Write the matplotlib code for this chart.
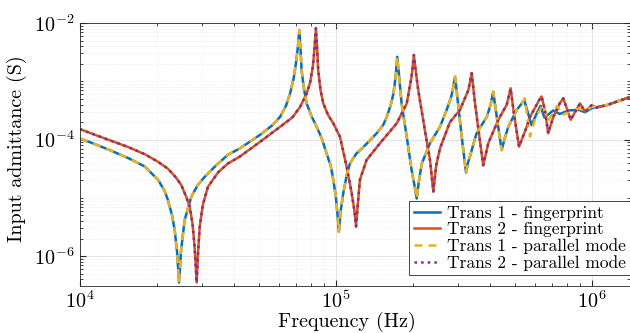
# Input admittance of two transducers, fingerprint vs parallel mode
import numpy as np
import matplotlib.pyplot as plt

# Data (log10 of frequency in Hz, log10 of admittance in S)
t1_logf = [4.000, 4.060, 4.122, 4.190, 4.253, 4.305, 4.330, 4.344, 4.360, 4.370,
           4.380, 4.387, 4.395, 4.409, 4.435, 4.460, 4.487, 4.530, 4.578, 4.625,
           4.703, 4.750, 4.782, 4.805, 4.821, 4.835, 4.844, 4.852, 4.857, 4.862,
           4.866, 4.875, 4.886, 4.905, 4.925, 4.945, 4.964, 4.980, 4.990, 5.000,
           5.006, 5.012, 5.018, 5.029, 5.042, 5.055, 5.080, 5.107, 5.160, 5.185,
           5.199, 5.215, 5.225, 5.233, 5.240, 5.248, 5.257, 5.277, 5.296, 5.308,
           5.316, 5.325, 5.336, 5.368, 5.407, 5.433, 5.450, 5.457, 5.466, 5.479,
           5.492, 5.500, 5.509, 5.516, 5.524, 5.550, 5.590, 5.605, 5.615, 5.629,
           5.648, 5.660, 5.674, 5.707, 5.730]
t1_logy = [-3.98, -4.08, -4.19, -4.32, -4.46, -4.69, -4.87, -5.04, -5.30, -5.55,
           -5.95, -6.45, -5.90, -5.38, -4.98, -4.78, -4.64, -4.45, -4.26, -4.15,
           -3.92, -3.76, -3.61, -3.42, -3.21, -2.95, -2.69, -2.40, -2.12, -2.45,
           -2.81, -3.12, -3.38, -3.60, -3.78, -3.98, -4.24, -4.45, -4.69, -4.98,
           -5.26, -5.58, -5.25, -4.92, -4.62, -4.41, -4.24, -4.13, -3.89, -3.75,
           -3.61, -3.40, -3.21, -2.95, -2.58, -2.95, -3.38, -3.95, -4.52, -4.80,
           -5.01, -4.70, -4.41, -4.06, -3.78, -3.49, -3.28, -3.15, -2.92, -3.44,
           -3.95, -4.25, -4.57, -4.40, -4.29, -3.89, -3.61, -3.40, -3.18, -3.61,
           -4.18, -3.98, -3.78, -3.49, -3.36]

# high-frequency tails, where fingerprint and parallel mode part a little
t1_fp_tail_logf = [5.737, 5.748, 5.765, 5.785, 5.800, 5.815, 5.850, 5.875, 5.910,
                   5.950, 5.974, 6.000, 6.058, 6.097, 6.150]
t1_fp_tail_logy = [-3.33, -3.50, -3.75, -3.55, -3.42, -3.62, -3.50, -3.56, -3.50,
                   -3.49, -3.53, -3.46, -3.41, -3.35, -3.27]
t1_pm_tail_logf = [5.739, 5.748, 5.759, 5.780, 5.810, 5.830, 5.865, 5.885, 5.920,
                   5.950, 5.974, 6.000, 6.058, 6.097, 6.150]
t1_pm_tail_logy = [-3.29, -3.61, -3.95, -3.62, -3.40, -3.68, -3.42, -3.58, -3.50,
                   -3.47, -3.50, -3.44, -3.41, -3.35, -3.27]

t2_logf = [4.000, 4.060, 4.122, 4.190, 4.253, 4.305, 4.344, 4.375, 4.396, 4.415,
           4.429, 4.440, 4.448, 4.456, 4.462, 4.468, 4.480, 4.500, 4.540, 4.578,
           4.625, 4.703, 4.782, 4.830, 4.860, 4.885, 4.899, 4.910, 4.915, 4.922,
           4.927, 4.931, 4.940, 4.951, 4.970, 4.990, 5.016, 5.042, 5.062, 5.072,
           5.079, 5.086, 5.094, 5.120, 5.173, 5.238, 5.277, 5.296, 5.305, 5.313,
           5.322, 5.348, 5.368, 5.381, 5.392, 5.407, 5.446, 5.485, 5.518, 5.531,
           5.544, 5.561, 5.576, 5.596, 5.635, 5.668, 5.683, 5.696, 5.716, 5.746,
           5.759, 5.795, 5.804, 5.817, 5.830, 5.850, 5.875, 5.889, 5.918, 5.954,
           5.974, 6.000, 6.019, 6.058, 6.097, 6.150]
t2_logy = [-3.82, -3.92, -4.02, -4.13, -4.25, -4.38, -4.50, -4.65, -4.78, -4.98,
           -5.15, -5.45, -5.84, -6.45, -5.90, -5.49, -5.12, -4.81, -4.56, -4.41,
           -4.29, -4.04, -3.78, -3.62, -3.44, -3.22, -3.03, -2.75, -2.52, -2.09,
           -2.45, -2.81, -3.15, -3.38, -3.58, -3.72, -3.95, -4.46, -4.92, -5.20,
           -5.49, -5.10, -4.69, -4.35, -4.06, -3.72, -3.38, -2.92, -2.55, -2.85,
           -3.15, -3.84, -4.35, -4.89, -4.45, -4.15, -3.70, -3.49, -3.15, -2.86,
           -3.38, -3.95, -4.44, -4.06, -3.66, -3.40, -3.12, -3.55, -4.12, -3.78,
           -3.61, -3.32, -3.26, -3.49, -3.89, -3.61, -3.38, -3.29, -3.66, -3.38,
           -3.52, -3.41, -3.45, -3.41, -3.35, -3.27]

labels = ["Trans 1 - fingerprint", "Trans 2 - fingerprint",
          "Trans 1 - parallel mode", "Trans 2 - parallel mode"]

plt.rcParams['font.family'] = 'cmr10'
plt.rcParams['mathtext.fontset'] = 'cm'
plt.rcParams['axes.formatter.use_mathtext'] = True

f1_fp = np.power(10.0, t1_logf + t1_fp_tail_logf)
y1_fp = np.power(10.0, t1_logy + t1_fp_tail_logy)
f1_pm = np.power(10.0, t1_logf + t1_pm_tail_logf)
y1_pm = np.power(10.0, t1_logy + t1_pm_tail_logy)
f2 = np.power(10.0, t2_logf)
y2 = np.power(10.0, t2_logy)

fig = plt.figure(figsize=(6.3, 3.33), dpi=100)
ax = fig.add_axes([80 / 630, 1 - 286 / 333, 550 / 630, 263 / 333])

lw = 1.8
ax.loglog(f1_fp, y1_fp, color='#0072BD', lw=lw, label=labels[0])
ax.loglog(f2, y2, color='#D95319', lw=lw, label=labels[1])
ax.loglog(f1_pm, y1_pm, color='#EDB120', lw=lw, dashes=(3.2, 2.4), label=labels[2])
ax.loglog(f2, y2, color='#7E2F8E', lw=lw, linestyle=':', label=labels[3])

ax.set_xlim(1e4, 10 ** 6.1497)
ax.set_ylim(10 ** -6.51, 1e-2)
ax.set_yticks([1e-6, 1e-4, 1e-2])
ax.set_xticks([1e4, 1e5, 1e6])
ax.yaxis.set_minor_locator(plt.matplotlib.ticker.LogLocator(base=10, subs=np.arange(1, 10), numticks=20))
ax.xaxis.set_minor_locator(plt.matplotlib.ticker.LogLocator(base=10, subs=np.arange(1, 10), numticks=20))
ax.yaxis.set_minor_formatter(plt.matplotlib.ticker.NullFormatter())
ax.xaxis.set_minor_formatter(plt.matplotlib.ticker.NullFormatter())

ax.grid(True, which='major', color='#dedede', lw=0.6)
ax.grid(True, which='minor', color='#e8e8e8', lw=0.5, linestyle=':')
ax.set_axisbelow(True)
ax.tick_params(which='both', direction='in', top=True, right=True, colors='#262626',
               labelsize=14.5, labelcolor='black')
ax.tick_params(which='major', length=4)
ax.tick_params(which='minor', length=2)
ax.tick_params(axis='x', pad=3)
ax.tick_params(axis='y', pad=4)
for s in ax.spines.values():
    s.set_color('#262626')
    s.set_linewidth(0.6)
ax.spines['right'].set_visible(False)

ax.set_xlabel("Frequency (Hz)", fontsize=14.5)
ax.set_ylabel("Input admittance (S)", fontsize=14.5)
ax.xaxis.set_label_coords(0.486, -0.1)
ax.yaxis.set_label_coords(-0.096, 0.523)

leg = ax.legend(loc='lower right', bbox_to_anchor=(1.0, 0.042), borderaxespad=0,
                fontsize=12.5, fancybox=False, framealpha=1, edgecolor='#262626',
                handlelength=1.5, handletextpad=0.4, labelspacing=0.05,
                borderpad=0.25)
leg.get_frame().set_linewidth(0.6)

plt.savefig("out.png", dpi=100)
